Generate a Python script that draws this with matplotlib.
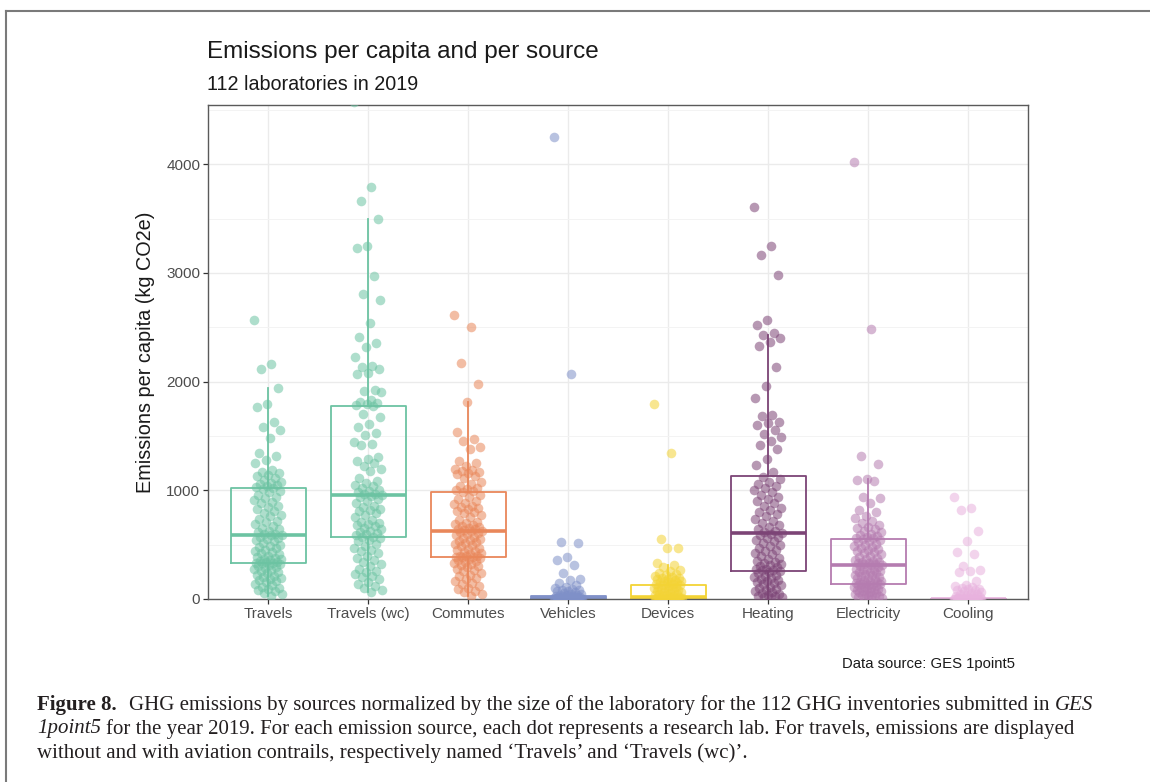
import matplotlib
matplotlib.use("Agg")
import matplotlib.pyplot as plt
from matplotlib.lines import Line2D
import numpy as np

# categories and colours
sources = ["Travels", "Travels (wc)", "Commutes", "Vehicles",
           "Devices", "Heating", "Electricity", "Cooling"]
colors = ["#6CC3A2", "#6CC3A2", "#E9875A", "#7F90C8",
          "#F3D335", "#7C4476", "#B57CB0", "#E8B2DE"]

# emissions per capita (kg CO2e), one value per laboratory
travels = [2565, 2160, 2115, 1937, 1790, 1765, 1625, 1580, 1555, 1480, 1340, 1315,
           1275, 1250, 1185, 1170, 1160, 1145, 1130, 1110, 1095, 1080, 1070, 1060,
           1050, 1040, 1030, 1022, 1010, 995, 985, 960, 940, 925, 910, 895, 880, 860,
           845, 830, 810, 790, 775, 760, 740, 720, 705, 690, 670, 655, 640, 625, 612,
           600, 595, 590, 585, 575, 565, 555, 545, 530, 515, 500, 490, 480, 470, 455,
           440, 430, 420, 410, 400, 390, 380, 370, 365, 355, 350, 345, 340, 335, 332,
           330, 325, 315, 305, 295, 285, 275, 265, 255, 245, 235, 225, 215, 205, 195,
           185, 175, 165, 155, 140, 125, 110, 100, 90, 80, 70, 55, 45, 30]
travels_wc = [4570, 3790, 3660, 3494, 3245, 3230, 2975, 2810, 2755, 2540, 2410, 2355,
              2315, 2230, 2145, 2135, 2120, 2080, 2070, 1920, 1910, 1900, 1830, 1815,
              1800, 1790, 1785, 1778, 1700, 1670, 1610, 1580, 1530, 1510, 1440, 1430,
              1420, 1310, 1290, 1270, 1250, 1220, 1200, 1180, 1110, 1090, 1070, 1050,
              1040, 1020, 1000, 990, 980, 970, 965, 960, 950, 940, 920, 900, 880, 860,
              845, 830, 820, 810, 790, 770, 750, 730, 710, 700, 690, 680, 670, 650, 640,
              630, 620, 605, 595, 585, 575, 570, 560, 545, 530, 510, 490, 470, 455, 440,
              420, 400, 380, 360, 340, 320, 300, 280, 260, 245, 230, 215, 200, 180, 160,
              140, 120, 100, 80, 60]
commutes = [2610, 2500, 2170, 1975, 1815, 1535, 1470, 1450, 1400, 1380, 1270, 1250,
            1220, 1200, 1190, 1180, 1170, 1160, 1150, 1130, 1110, 1080, 1060, 1040,
            1020, 1010, 1000, 992, 980, 960, 940, 920, 900, 885, 870, 860, 850, 840, 830,
            810, 800, 790, 770, 750, 730, 710, 700, 690, 680, 670, 660, 650, 645, 640,
            635, 630, 625, 615, 605, 595, 585, 575, 565, 555, 545, 535, 525, 515, 505,
            495, 485, 470, 460, 450, 440, 430, 420, 410, 400, 395, 392, 390, 387, 385,
            380, 370, 360, 350, 340, 330, 320, 310, 300, 290, 280, 270, 255, 240, 225,
            210, 195, 180, 165, 150, 135, 120, 105, 90, 75, 60, 45, 25]
vehicles = [4250, 2070, 520, 515, 390, 360, 315, 240, 185, 175, 150, 130, 110, 100,
            95, 85, 80, 75, 70, 60, 55, 50, 45, 40, 38, 35, 30, 28, 25, 22, 20, 18, 16,
            14, 12, 10, 9, 8, 7, 6, 5, 4, 3, 2, 1, 0, 0, 0, 0, 0, 0, 0, 0, 0, 0, 0, 0,
            0, 0, 0]
devices = [1790, 1340, 550, 470, 465, 330, 310, 290, 270, 255, 240, 230, 220, 210,
           200, 195, 190, 185, 180, 175, 170, 165, 160, 155, 150, 145, 140, 135, 130,
           125, 120, 115, 110, 105, 100, 95, 90, 85, 80, 75, 70, 65, 60, 55, 50, 45, 40,
           35, 30, 25, 20, 18, 15, 12, 10, 8, 5, 0, 0, 0, 0, 0, 0, 0, 0, 0, 0, 0, 0]
heating = [3610, 3245, 3165, 2985, 2570, 2520, 2450, 2428, 2400, 2360, 2330, 2130,
           1960, 1845, 1690, 1680, 1630, 1615, 1600, 1555, 1520, 1490, 1450, 1420,
           1380, 1290, 1230, 1170, 1120, 1100, 1080, 1060, 1040, 1020, 1000, 980, 960,
           940, 920, 900, 880, 860, 840, 820, 800, 780, 760, 740, 720, 700, 680, 660,
           645, 630, 620, 610, 600, 590, 575, 560, 545, 530, 515, 500, 485, 470, 455,
           440, 425, 410, 395, 380, 365, 350, 340, 330, 320, 310, 300, 290, 280, 275,
           270, 265, 255, 245, 235, 225, 215, 205, 195, 185, 175, 165, 155, 145, 135,
           125, 115, 105, 95, 85, 75, 65, 55, 45, 35, 30, 25, 20, 15, 10]
electricity = [4025, 2485, 1315, 1240, 1100, 1095, 1090, 940, 930, 880, 820, 800, 760,
               745, 720, 700, 680, 665, 650, 640, 630, 615, 600, 590, 580, 570, 565,
               558, 550, 540, 530, 520, 510, 500, 490, 480, 470, 460, 450, 440, 430,
               420, 410, 400, 390, 380, 370, 360, 350, 345, 340, 335, 330, 325, 320,
               315, 310, 300, 290, 280, 275, 270, 265, 260, 250, 245, 240, 230, 225,
               220, 210, 200, 195, 190, 180, 175, 170, 165, 160, 155, 150, 145, 142,
               140, 135, 130, 125, 120, 115, 110, 105, 100, 95, 90, 85, 80, 75, 70, 65,
               60, 55, 50, 45, 40, 35, 30, 25, 20, 15, 10, 5, 0]
cooling = [935, 835, 820, 630, 535, 430, 415, 300, 265, 255, 250, 170, 130, 120, 110,
           100, 95, 90, 85, 80, 70, 60, 55, 50, 45, 40, 30, 25, 20, 15, 10, 5, 0, 0, 0,
           0, 0, 0, 0, 0, 0, 0, 0, 0, 0, 0, 0, 0, 0, 0]
values = [travels, travels_wc, commutes, vehicles, devices, heating, electricity, cooling]

# box statistics
q1 = [328, 567, 383, 0, 0, 260, 138, 0]
medians = [588, 956, 628, 5, 15, 604, 313, 0]
q3 = [1018, 1775, 987, 25, 129, 1134, 555, 4]
whisk_lo = [30, 60, 25, 0, 0, 10, 0, 0]
whisk_hi = [1937, 3494, 1815, 60, 310, 2428, 1100, 10]

W, H = 1150, 782
fig = plt.figure(figsize=(W / 100, H / 100), dpi=100)
plt.rcParams['font.family'] = ['Liberation Sans', 'DejaVu Sans']

ax = fig.add_axes([208 / W, 1 - 599 / H, 820 / W, 494 / H])
pos = np.arange(1, len(sources) + 1)

stats = []
for i, name in enumerate(sources):
    stats.append(dict(label=name, q1=q1[i], med=medians[i], q3=q3[i],
                      whislo=whisk_lo[i], whishi=whisk_hi[i], fliers=[]))
bp = ax.bxp(stats, positions=pos, widths=0.75, showfliers=False, showcaps=False,
            patch_artist=False, manage_ticks=False, zorder=2)
for i, c in enumerate(colors):
    bp['boxes'][i].set(color=c, linewidth=1.3)
    bp['medians'][i].set(color=c, linewidth=2.6)
    for w in bp['whiskers'][2 * i:2 * i + 2]:
        w.set(color=c, linewidth=1.3)

# jittered points (deterministic spread around each category)
for i, vals in enumerate(values):
    n = len(vals)
    offs = ((np.arange(n) * 0.6180339887) % 1 - 0.5) * 0.28
    ax.scatter(pos[i] + offs, vals, s=48, color=colors[i], alpha=0.55,
               linewidths=0, zorder=3)

ax.set_xlim(0.4, 8.6)
ax.set_ylim(0, 4545)
ax.set_xticks(pos)
ax.set_xticklabels(sources)
ax.set_yticks([0, 1000, 2000, 3000, 4000])
ax.set_yticks([500, 1500, 2500, 3500, 4500], minor=True)
ax.grid(True, which='major', color='#EBEBEB', linewidth=1.0, zorder=0)
ax.grid(True, which='minor', axis='y', color='#F3F3F3', linewidth=0.7, zorder=0)
ax.set_axisbelow(True)
ax.tick_params(axis='both', which='major', labelsize=11, labelcolor='#4D4D4D',
               color='#333333', length=3.5, width=0.9, pad=2)
ax.tick_params(axis='y', which='minor', length=0)
for sp in ax.spines.values():
    sp.set_color('#5A5A5A')
    sp.set_linewidth(1.0)
ax.set_ylabel("Emissions per capita (kg CO2e)", fontsize=14.3, color='#1A1A1A',
              labelpad=8)

fig.text(207 / W, 1 - 52 / H, "Emissions per capita and per source", fontsize=17.5,
         color='#1A1A1A', va='center', ha='left')
fig.text(207 / W, 1 - 84 / H, "112 laboratories in 2019", fontsize=14.2,
         color='#1A1A1A', va='center', ha='left')
fig.text(1015 / W, 1 - 664 / H, "Data source: GES 1point5", fontsize=10.7,
         color='#1A1A1A', va='center', ha='right')

# page frame
fig.add_artist(Line2D([6 / W, 1], [1 - 11 / H, 1 - 11 / H], transform=fig.transFigure,
                      color='#7A7A7A', linewidth=1.5))
fig.add_artist(Line2D([6 / W, 6 / W], [0, 1 - 11 / H], transform=fig.transFigure,
                      color='#7A7A7A', linewidth=1.5))

# caption, built piece by piece so bold/italic parts sit inline
renderer = fig.canvas.get_renderer()
cap_font = dict(family=['Liberation Serif', 'DejaVu Serif'], fontsize=15.0,
                color='#231F20', va='center', ha='left')


def text_width(s, **kw):
    t = fig.text(0, 0, s, **{**cap_font, **kw})
    w = t.get_window_extent(renderer).width
    t.remove()
    return w


space = text_width("x x") - text_width("xx")
lines = [
    (705, [("Figure 8.", dict(weight='bold'), 2.3),
           ("GHG emissions by sources normalized by the size of the laboratory for the "
            "112 GHG inventories submitted in", {}, 1),
           ("GES", dict(style='italic'), 0)]),
    (729, [("1point5", dict(style='italic'), 1),
           ("for the year 2019. For each emission source, each dot represents a research "
            "lab. For travels, emissions are displayed", {}, 0)]),
    (753, [("without and with aviation contrails, respectively named \u2018Travels\u2019 "
            "and \u2018Travels (wc)\u2019.", {}, 0)]),
]
for y, pieces in lines:
    x = 37
    for s, style, gap in pieces:
        t = fig.text(x / W, 1 - y / H, s, **{**cap_font, **style})
        x += t.get_window_extent(renderer).width + gap * space

fig.savefig("out.png", dpi=100)
